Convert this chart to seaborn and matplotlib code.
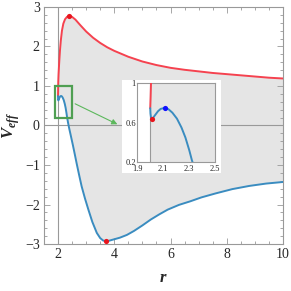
import matplotlib
matplotlib.use('Agg')
import matplotlib.pyplot as plt
import numpy as np
import pandas as pd
import seaborn as sns
from matplotlib.patches import Rectangle
from matplotlib.ticker import MultipleLocator

# upper branch (red)
red_r = [2.0, 2.003, 2.006, 2.01, 2.02, 2.035, 2.05, 2.07, 2.1, 2.14, 2.19, 2.25, 2.32,
         2.4, 2.5, 2.62, 2.78, 3.0, 3.25, 3.5, 3.75, 4.0, 4.5, 5.0, 5.5, 6.0, 6.5, 7.0,
         7.5, 8.0, 8.5, 9.0, 9.5, 10.0]
red_v = [0.745, 0.86, 1.0, 1.12, 1.3, 1.5, 1.68, 1.9, 2.15, 2.4, 2.58, 2.69, 2.75,
         2.77, 2.75, 2.68, 2.55, 2.38, 2.22, 2.09, 1.98, 1.89, 1.74, 1.62, 1.53, 1.46, 1.41, 1.37,
         1.33, 1.30, 1.27, 1.24, 1.21, 1.19]

# lower branch (blue)
blue_r = [2.0, 2.002, 2.006, 2.01, 2.02, 2.04, 2.06, 2.08, 2.11, 2.14, 2.17, 2.205, 2.24,
          2.27, 2.30, 2.32, 2.36, 2.40, 2.45, 2.53, 2.60, 2.66, 2.75, 2.84, 2.96, 3.08, 3.22,
          3.38, 3.5, 3.6, 3.7, 3.8, 3.95, 4.2, 4.45, 4.7, 5.0, 5.3, 5.6, 5.9, 6.3, 6.7, 7.1,
          7.6, 8.2, 8.8, 9.4, 10.0]
blue_v = [0.745, 0.69, 0.65, 0.636, 0.645, 0.68, 0.715, 0.738, 0.748, 0.735, 0.70, 0.64, 0.55,
          0.45, 0.32, 0.22, 0.06, -0.08, -0.24, -0.50, -0.74, -0.95, -1.25, -1.54, -1.85, -2.13, -2.44,
          -2.72, -2.85, -2.91, -2.93, -2.92, -2.89, -2.84, -2.77, -2.67, -2.53, -2.38, -2.25, -2.13, -2.01, -1.92, -1.82,
          -1.72, -1.61, -1.53, -1.47, -1.43]

# extrema markers
main_dot_r = [2.4, 3.7]
main_dot_v = [2.77, -2.93]
inset_min_r, inset_min_v = [2.01], [0.636]
inset_max_r, inset_max_v = [2.11], [0.748]

RED = '#f5424f'
BLUE = '#3a8cc0'
GRAY = '#999999'
FILL = '#e5e5e5'
GREEN = '#4f9f52'

sns.set_theme(style='ticks')
plt.rcParams['font.family'] = 'serif'
plt.rcParams['font.serif'] = ['Liberation Serif', 'Times New Roman', 'DejaVu Serif']
plt.rcParams['mathtext.fontset'] = 'custom'
plt.rcParams['mathtext.bf'] = 'Liberation Serif:bold:italic'
plt.rcParams['mathtext.rm'] = 'Liberation Serif'
plt.rcParams['axes.unicode_minus'] = True

red_df = pd.DataFrame({'r': red_r, 'V': red_v})
blue_df = pd.DataFrame({'r': blue_r, 'V': blue_v})


def style_axis(ax, color=GRAY):
    for s in ax.spines.values():
        s.set_color(color)
        s.set_linewidth(0.8)


fig = plt.figure(figsize=(2.91, 2.91), dpi=100)
ax = fig.add_axes([0.151, 0.1615, 0.8215, 0.8145])

# shaded region between the two branches
ax.fill(np.concatenate([red_r, blue_r[::-1]]), np.concatenate([red_v, blue_v[::-1]]),
        color=FILL, lw=0, zorder=0)
ax.axhline(0, color=GRAY, lw=0.8, zorder=1)
ax.axvline(2, color=GRAY, lw=0.8, zorder=1)
sns.lineplot(data=red_df, x='r', y='V', ax=ax, color=RED, lw=1.4, sort=False, zorder=3)
sns.lineplot(data=blue_df, x='r', y='V', ax=ax, color=BLUE, lw=1.4, sort=False, zorder=3)
sns.scatterplot(x=main_dot_r, y=main_dot_v, ax=ax, color='#e8141c', s=14, linewidth=0, zorder=4)

ax.set_xlim(1.5, 10)
ax.set_ylim(-3, 3)
ax.xaxis.set_major_locator(MultipleLocator(2))
ax.xaxis.set_minor_locator(MultipleLocator(0.5))
ax.yaxis.set_major_locator(MultipleLocator(1))
ax.yaxis.set_minor_locator(MultipleLocator(0.2))
ax.tick_params(which='both', direction='in', top=True, right=True, color=GRAY, width=0.6,
               labelsize=10, pad=3)
ax.tick_params(which='major', length=4)
ax.tick_params(which='minor', length=2)
style_axis(ax)
ax.set_xlabel(r'$\mathbf{r}$', fontsize=12, labelpad=6)
ax.set_ylabel(r'$\mathbf{V}_{\mathbf{eff}}$', fontsize=12, labelpad=2)

# zoom box and arrow
ax.add_patch(Rectangle((1.9, 0.2), 0.6, 0.8, fill=False, ec=GREEN, lw=1.6, zorder=5))
ax.annotate('', xy=(4.2, 0.0), xytext=(2.52, 0.58),
            arrowprops=dict(arrowstyle='-|>', color='#5cb85c', lw=0.8, mutation_scale=8),
            zorder=5)

# white card behind the inset
fig.patches.append(Rectangle((0.419, 0.405), 0.340, 0.320, transform=fig.transFigure,
                             facecolor='white', edgecolor='none', zorder=1))

axin = fig.add_axes([0.4715, 0.4425, 0.2685, 0.2725], zorder=2)
axin.axvspan(2.0, 2.5, color=FILL, lw=0, zorder=0)
axin.axvline(2, color=GRAY, lw=0.8, zorder=1)
sns.lineplot(data=red_df, x='r', y='V', ax=axin, color=RED, lw=1.4, sort=False, zorder=3)
sns.lineplot(data=blue_df, x='r', y='V', ax=axin, color=BLUE, lw=1.4, sort=False, zorder=3)
sns.scatterplot(x=inset_min_r, y=inset_min_v, ax=axin, color='#e8141c', s=14, linewidth=0, zorder=4)
sns.scatterplot(x=inset_max_r, y=inset_max_v, ax=axin, color='#1010ff', s=14, linewidth=0, zorder=4)
axin.set_xlim(1.9, 2.5)
axin.set_ylim(0.2, 1.0)
axin.set_xticks([1.9, 2.1, 2.3, 2.5])
axin.set_xticklabels(['1.9', '2.1', '2.3', '2.5'])
axin.set_yticks([0.2, 0.6, 1.0])
axin.set_yticklabels(['0.2', '0.6', '1'])
axin.tick_params(axis='y', length=0, labelsize=6, pad=1)
axin.tick_params(axis='x', length=0, labelsize=6, pad=2.2)
axin.set_xlabel('')
axin.set_ylabel('')
style_axis(axin)

fig.savefig('out.png', dpi=100)
